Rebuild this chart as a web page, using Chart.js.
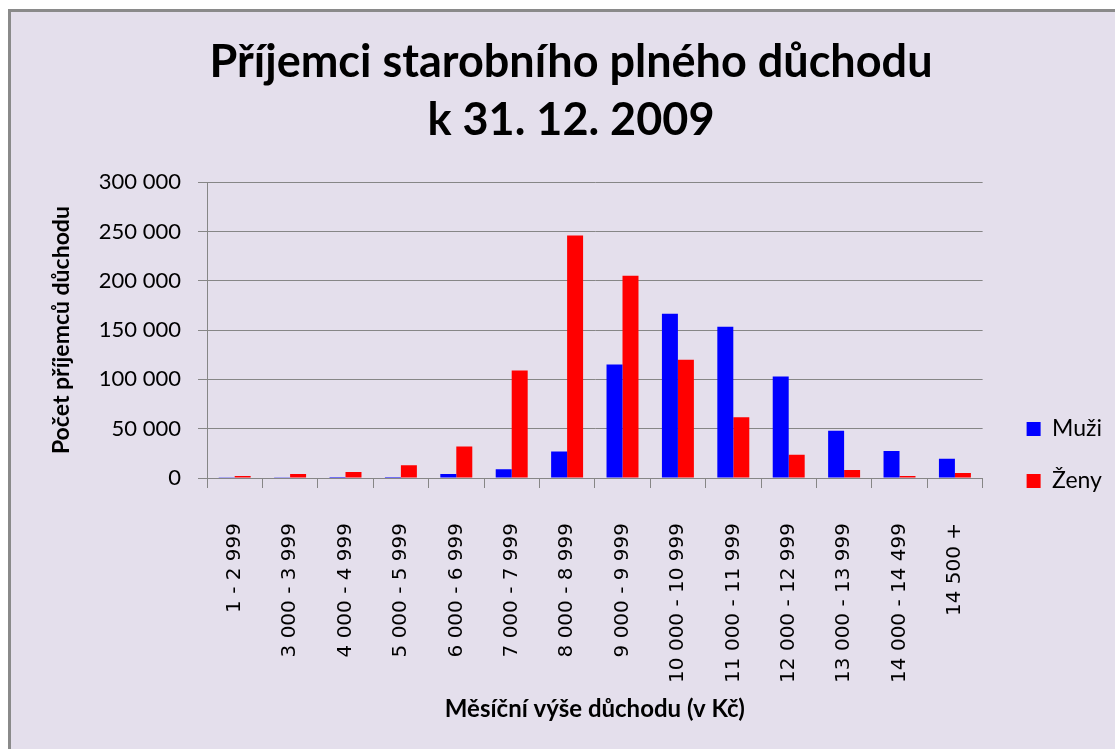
<!DOCTYPE html>
<html>
<head>
<meta charset="utf-8">
<script src="https://cdn.jsdelivr.net/npm/chart.js@4/dist/chart.umd.min.js"></script>
<style>
html,body{margin:0;padding:0;background:#fff;}
canvas{display:block;}
</style>
</head>
<body>
<canvas id="c" width="1115" height="749"></canvas>
<script>
const categories = ['1 - 2 999','3 000 - 3 999','4 000 - 4 999','5 000 - 5 999','6 000 - 6 999','7 000 - 7 999','8 000 - 8 999','9 000 - 9 999','10 000 - 10 999','11 000 - 11 999','12 000 - 12 999','13 000 - 13 999','14 000 - 14 499','14 500 +'];
const muzi = [300, 800, 900, 1000, 4000, 9000, 27000, 115000, 166500, 153500, 103000, 48000, 27500, 19500];
const zeny = [2000, 4000, 6000, 13000, 32000, 109000, 246000, 205000, 120000, 61500, 23500, 8000, 2000, 5000];
const seriesNames = ['Muži', 'Ženy'];
const titleLines = ['Příjemci starobního plného důchodu', 'k 31. 12. 2009'];
const yTitle = 'Počet příjemců důchodu';
const xTitle = 'Měsíční výše důchodu (v Kč)';

const GRID = '#868686';
const bgPlugin = {
  id: 'bg',
  beforeDraw(chart) {
    const ctx = chart.ctx;
    ctx.save();
    ctx.fillStyle = '#ffffff';
    ctx.fillRect(0, 0, chart.width, chart.height);
    ctx.fillStyle = '#E4DFEC';
    ctx.fillRect(10, 11, chart.width - 10, chart.height - 11);
    ctx.strokeStyle = '#8a8a8a';
    ctx.lineWidth = 3;
    ctx.beginPath();
    ctx.moveTo(9.5, chart.height);
    ctx.lineTo(9.5, 10.5);
    ctx.lineTo(chart.width, 10.5);
    ctx.stroke();
    ctx.restore();
  }
};

function fmt(v) {
  return String(v).replace(/\B(?=(\d{3})+(?!\d))/g, ' ');
}

new Chart(document.getElementById('c'), {
  type: 'bar',
  data: {
    labels: categories,
    datasets: [
      { label: seriesNames[0], data: muzi, backgroundColor: '#0000FF', borderWidth: 0 },
      { label: seriesNames[1], data: zeny, backgroundColor: '#FF0000', borderWidth: 0 }
    ]
  },
  options: {
    responsive: false,
    animation: false,
    devicePixelRatio: 1,
    layout: { padding: { left: 30, right: 3, top: 0, bottom: 0 } },
    datasets: { bar: { categoryPercentage: 0.577, barPercentage: 1.0 } },
    plugins: {
      title: {
        display: true,
        text: titleLines,
        color: '#000',
        font: { family: 'Lato', size: 45, weight: 'bold', lineHeight: 1.28 },
        padding: { top: 34, bottom: 33 }
      },
      legend: {
        position: 'right',
        align: 'center',
        title: { display: true, text: ' ', font: { size: 10 }, padding: { top: 149, bottom: 0 } },
        labels: {
          color: '#000',
          boxWidth: 14,
          boxHeight: 14,
          padding: 29,
          font: { family: 'Lato', size: 23 }
        }
      },
      tooltip: { enabled: false }
    },
    scales: {
      x: {
        offset: true,
        grid: { display: true, drawOnChartArea: false, drawTicks: true, tickLength: 10, color: GRID, offset: true },
        border: { display: true, color: GRID, width: 1 },
        ticks: {
          autoSkip: false, maxRotation: 90, minRotation: 90, padding: 35,
          color: '#000', font: { family: 'DejaVu Sans', size: 20 }
        },
        title: {
          display: true, text: xTitle, color: '#000',
          font: { family: 'Lato', size: 24, weight: 'bold' },
          padding: { top: 0, bottom: 25 }
        },
        afterFit(s) { s.height = 271; }
      },
      y: {
        min: 0, max: 300000,
        ticks: {
          stepSize: 50000, padding: 17, color: '#000',
          font: { family: 'Lato', size: 22 },
          callback: (v) => fmt(v)
        },
        grid: { color: GRID, lineWidth: 1, tickLength: 9, drawTicks: true },
        border: { display: true, color: GRID, width: 1 },
        title: {
          display: true, text: yTitle, color: '#000',
          font: { family: 'Lato', size: 23, weight: 'bold' },
          padding: { top: 18, bottom: 0 }
        },
        afterFit(s) { s.width = 177; }
      },
      yR: {
        position: 'right',
        display: true,
        grid: { display: false, drawTicks: false },
        ticks: { display: false },
        border: { display: false },
        afterFit(s) { s.width = 15; }
      }
    }
  },
  plugins: [bgPlugin]
});
</script>
</body>
</html>
